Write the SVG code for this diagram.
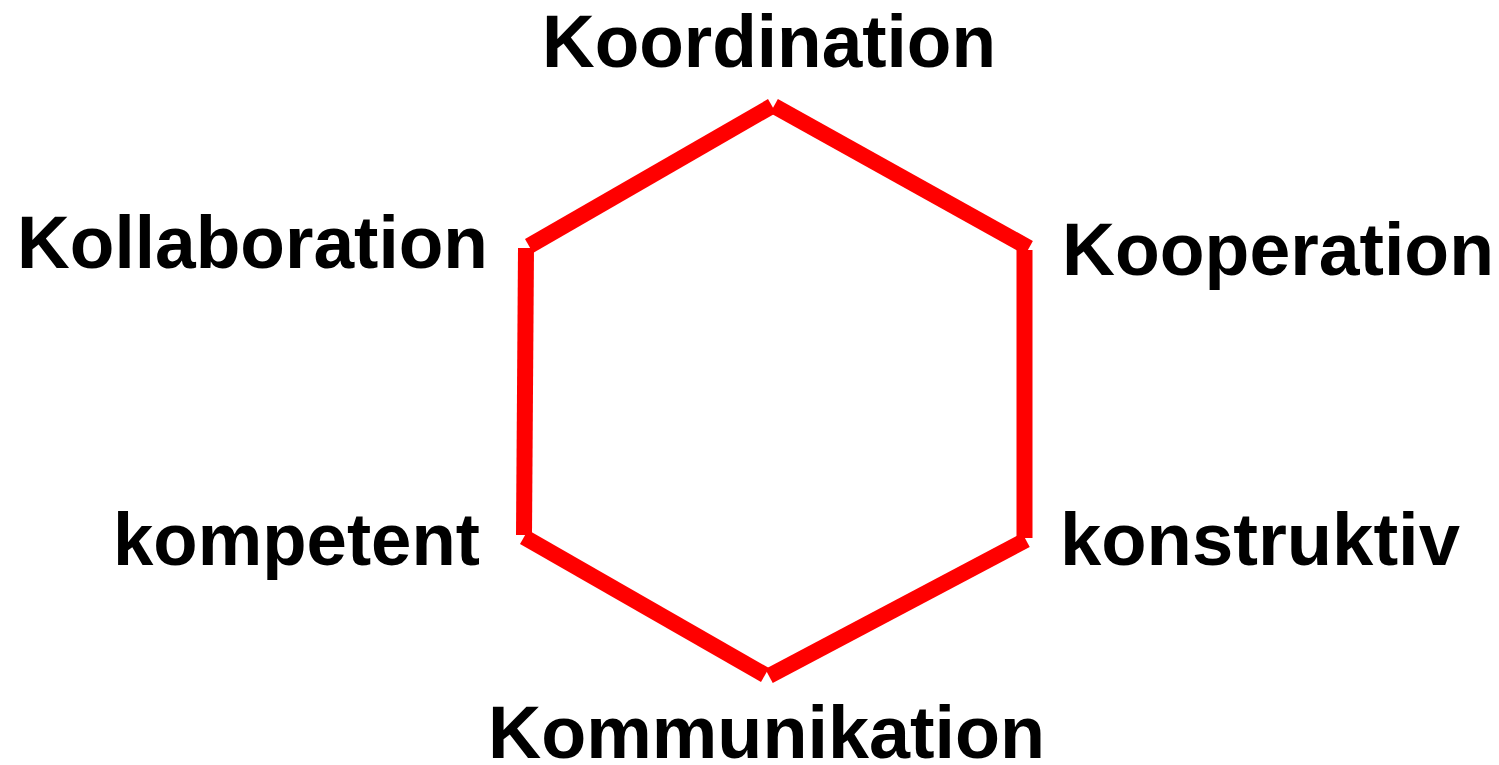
<svg xmlns="http://www.w3.org/2000/svg" width="1499" height="765" viewBox="0 0 1499 765">
<style>
.lbl{font-family:"Liberation Sans",Arial,sans-serif;font-weight:bold;font-size:74px;fill:#000}
.edge{stroke:#ff0000;stroke-width:16;stroke-linecap:butt;fill:none}
</style>
<rect width="1499" height="765" fill="#fff"/>
<g id="connectors">
<line class="edge" x1="529" y1="246" x2="772" y2="106"/>
<line class="edge" x1="774" y1="106" x2="1029" y2="248"/>
<line class="edge" x1="1024.5" y1="250" x2="1024.5" y2="538"/>
<line class="edge" x1="526" y1="248" x2="524" y2="535"/>
<line class="edge" x1="524" y1="537" x2="765" y2="675"/>
<line class="edge" x1="769" y1="676" x2="1026" y2="540"/>
</g>
<g id="koordination"><text class="lbl" x="542" y="67" textLength="454" lengthAdjust="spacingAndGlyphs">Koordination</text></g>
<g id="kollaboration"><text class="lbl" x="17" y="268" textLength="471" lengthAdjust="spacingAndGlyphs">Kollaboration</text></g>
<g id="kooperation"><text class="lbl" x="1062" y="275" textLength="432" lengthAdjust="spacingAndGlyphs">Kooperation</text></g>
<g id="kompetent"><text class="lbl" x="113" y="565" textLength="367" lengthAdjust="spacingAndGlyphs">kompetent</text></g>
<g id="konstruktiv"><text class="lbl" x="1060" y="565" textLength="400" lengthAdjust="spacingAndGlyphs">konstruktiv</text></g>
<g id="kommunikation"><text class="lbl" x="488" y="758" textLength="557" lengthAdjust="spacingAndGlyphs">Kommunikation</text></g>
</svg>
